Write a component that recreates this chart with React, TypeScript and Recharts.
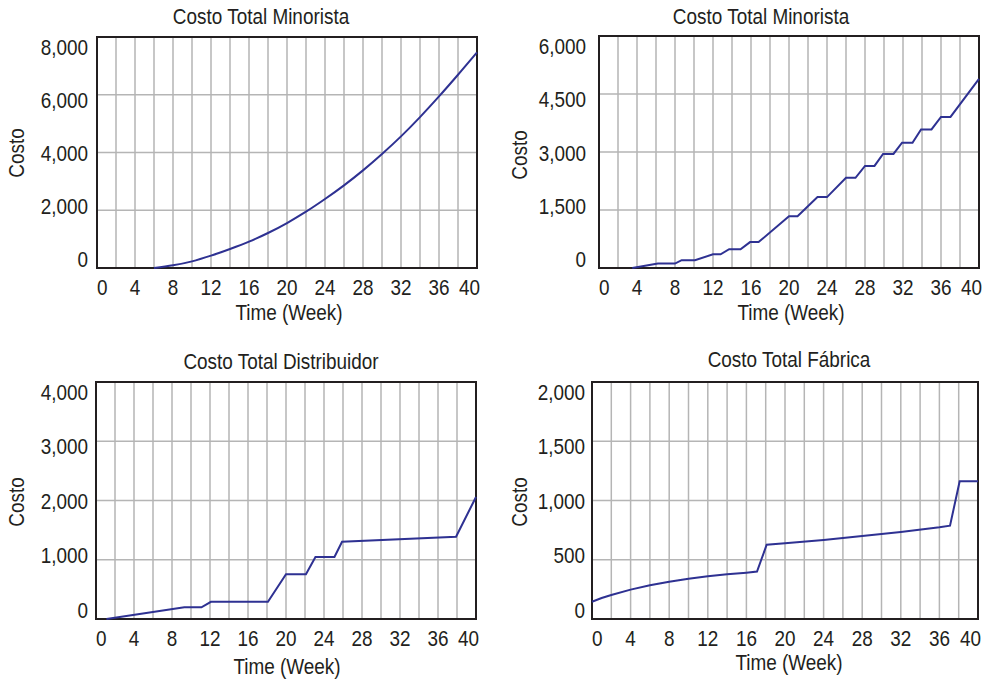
import React from "react"
import { LineChart, Line, XAxis, YAxis, CartesianGrid, ReferenceArea } from "recharts"

// x axis: weeks 0..40, grid every 2 weeks, label every 4
const weekTicks = [0, 2, 4, 6, 8, 10, 12, 14, 16, 18, 20, 22, 24, 26, 28, 30, 32, 34, 36, 38, 40]

// Costo Total Minorista (smooth)
const retailWeeks = [6, 8, 10, 12, 14, 16, 18, 20, 22, 24, 26, 28, 30, 32, 34, 36, 38, 40]
const retailCost = [0, 92, 230, 427, 658, 912, 1212, 1558, 1950, 2389, 2862, 3381, 3947, 4558, 5227, 5943, 6693, 7466]
const retailTicks = [0, 2000, 4000, 6000, 8000]

// Costo Total Minorista (stepped)
const retailStepWeeks = [3.5, 6.2, 8, 8.7, 10.1, 12, 12.8, 13.7, 14.9, 15.9, 16.8, 20, 20.9, 23, 24, 26, 27, 28, 29, 29.9, 31, 31.9, 33, 33.9, 35, 36, 37, 40]
const retailStepCost = [0, 115, 115, 203, 203, 353, 353, 485, 485, 670, 670, 1340, 1340, 1834, 1834, 2331, 2331, 2640, 2640, 2949, 2949, 3240, 3240, 3583, 3583, 3908, 3908, 4890]
const retailStepTicks = [0, 1500, 3000, 4500, 6000]

// Costo Total Distribuidor
const distWeeks = [1.1, 9.3, 11.1, 12.1, 18.1, 20, 22.1, 23.1, 25.1, 25.9, 37.9, 40]
const distCost = [0, 198, 198, 290, 290, 754, 754, 1046, 1046, 1303, 1389, 2060]
const distTicks = [0, 1000, 2000, 3000, 4000]

// Costo Total Fábrica
const factoryWeeks = [0, 1, 2, 4, 6, 8, 10, 12, 14, 16, 17.1, 18.1, 20, 24, 28, 32, 36, 37.1, 38.1, 40]
const factoryCost = [146, 177, 203, 248, 284, 315, 340, 360, 377, 391, 400, 627, 639, 667, 700, 734, 774, 788, 1162, 1162]
const factoryTicks = [0, 500, 1000, 1500, 2000]

const FONT = '"Liberation Sans Narrow", "Arial Narrow", "Liberation Sans", Arial, sans-serif'
const INK = "#231f20"
const LINE = "#2e3192"
const SQUEEZE = 0.86 // the original uses a condensed face

const toRows = (weeks: number[], cost: number[]) => weeks.map((w, i) => ({ week: w, cost: cost[i] }))

function XTick(props: any) {
    const { x, y, payload } = props
    const v = payload.value
    if (v % 4 !== 0) return <g />
    let anchor = "middle"
    let dx = 0
    if (v === 0) anchor = "start"
    if (v === 40) {
        anchor = "end"
        dx = 3
    }
    return (
        <text
            transform={`translate(${x + dx},${y + 19}) scale(${SQUEEZE},1)`}
            dy="0.36em"
            textAnchor={anchor}
            fontSize={22}
            fill={INK}
            fontFamily={FONT}
        >
            {v}
        </text>
    )
}

function YTick(props: any) {
    const { x, y, payload, top, gap } = props
    // labels are spread a bit tighter than the grid, like the original plot
    const ly = top + 10 + (y - top) * 0.92
    return (
        <text
            transform={`translate(${x - gap},${ly}) scale(${SQUEEZE},1)`}
            dy="0.36em"
            textAnchor="end"
            fontSize={22}
            fill={INK}
            fontFamily={FONT}
        >
            {payload.value.toLocaleString("en-US")}
        </text>
    )
}

const textStyle: React.CSSProperties = {
    position: "absolute",
    fontFamily: FONT,
    fontSize: 22,
    color: INK,
    whiteSpace: "nowrap",
    lineHeight: 1,
}

function Panel(props: any) {
    const { left, top, width, height, plot, rows, ticks, curve, gap, title, titleAt, xLabelAt, yLabelAt } = props
    const yMax = ticks[ticks.length - 1]
    const xAxisH = 40
    const margin = {
        top: plot.t - top,
        right: left + width - plot.r,
        left: 0,
        bottom: top + height - plot.b - xAxisH,
    }
    return (
        <>
            <div style={{ position: "absolute", left, top, width, height }}>
                <LineChart width={width} height={height} data={rows} margin={margin}>
                    <CartesianGrid stroke="#b5b5b5" strokeWidth={1.5} />
                    <XAxis
                        dataKey="week"
                        type="number"
                        domain={[0, 40]}
                        ticks={weekTicks}
                        interval={0}
                        height={xAxisH}
                        tickLine={false}
                        axisLine={false}
                        tickSize={0}
                        tickMargin={0}
                        tick={<XTick />}
                    />
                    <YAxis
                        type="number"
                        domain={[0, yMax]}
                        ticks={ticks}
                        interval={0}
                        width={plot.l - left}
                        tickLine={false}
                        axisLine={false}
                        tickSize={0}
                        tickMargin={0}
                        tick={(p: any) => <YTick {...p} top={plot.t - top} gap={gap} />}
                    />
                    <ReferenceArea x1={0} x2={40} y1={0} y2={yMax} fill="none" stroke={INK} strokeWidth={2} />
                    <Line
                        type={curve}
                        dataKey="cost"
                        stroke={LINE}
                        strokeWidth={2}
                        dot={false}
                        isAnimationActive={false}
                    />
                </LineChart>
            </div>
            <div style={{ ...textStyle, left: titleAt[0], top: titleAt[1], transform: `translate(-50%, -50%) scale(${SQUEEZE}, 1)` }}>
                {title}
            </div>
            <div style={{ ...textStyle, left: xLabelAt[0], top: xLabelAt[1], transform: `translate(-50%, -50%) scale(${SQUEEZE}, 1)` }}>
                Time (Week)
            </div>
            <div
                style={{
                    ...textStyle,
                    left: yLabelAt[0],
                    top: yLabelAt[1],
                    transform: `translate(-50%, -50%) rotate(-90deg) scale(${SQUEEZE}, 1)`,
                }}
            >
                Costo
            </div>
        </>
    )
}

export default function App() {
    return (
        <div style={{ position: "absolute", left: 0, top: 0, width: 987, height: 682, background: "#fff", overflow: "hidden" }}>
            <Panel
                left={0}
                top={0}
                width={490}
                height={340}
                plot={{ l: 97, t: 37, r: 477, b: 268 }}
                rows={toRows(retailWeeks, retailCost)}
                ticks={retailTicks}
                curve="monotone"
                gap={9}
                title="Costo Total Minorista"
                titleAt={[261, 17]}
                xLabelAt={[289, 313]}
                yLabelAt={[17, 153]}
            />
            <Panel
                left={495}
                top={0}
                width={492}
                height={340}
                plot={{ l: 599, t: 36, r: 979, b: 268 }}
                rows={toRows(retailStepWeeks, retailStepCost)}
                ticks={retailStepTicks}
                curve="linear"
                gap={13}
                title="Costo Total Minorista"
                titleAt={[761, 17]}
                xLabelAt={[791, 313]}
                yLabelAt={[520, 155]}
            />
            <Panel
                left={0}
                top={340}
                width={490}
                height={342}
                plot={{ l: 96, t: 382, r: 476, b: 619 }}
                rows={toRows(distWeeks, distCost)}
                ticks={distTicks}
                curve="linear"
                gap={8}
                title="Costo Total Distribuidor"
                titleAt={[281, 362]}
                xLabelAt={[287, 667]}
                yLabelAt={[17, 502]}
            />
            <Panel
                left={495}
                top={340}
                width={492}
                height={342}
                plot={{ l: 592, t: 382, r: 978, b: 619 }}
                rows={toRows(factoryWeeks, factoryCost)}
                ticks={factoryTicks}
                curve="linear"
                gap={7}
                title="Costo Total Fábrica"
                titleAt={[789, 360]}
                xLabelAt={[789, 663]}
                yLabelAt={[520, 502]}
            />
        </div>
    )
}
